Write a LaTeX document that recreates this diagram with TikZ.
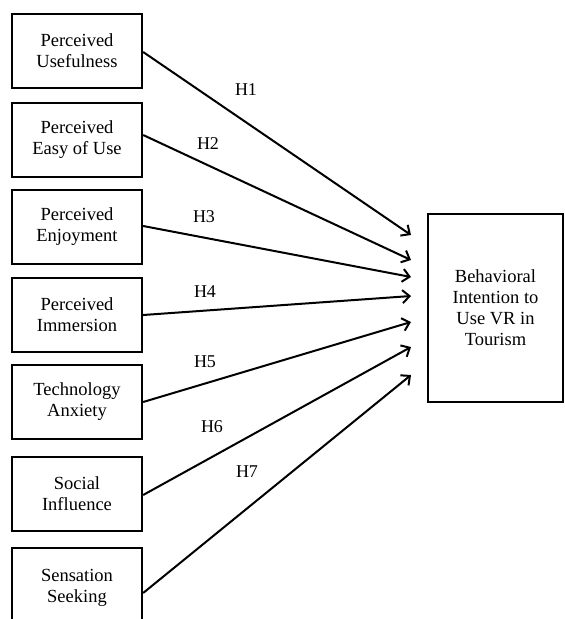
\documentclass[tikz,border=0pt]{standalone}
\usepackage{fontspec}
\setmainfont{Liberation Serif}
\usetikzlibrary{arrows.meta}
\begin{document}
\begin{tikzpicture}[x=1pt,y=-1pt,
  factor/.style={draw=black,line width=2.3pt,minimum width=130pt,minimum height=74pt,
    align=center,inner sep=0pt,font=\fontsize{18.5}{21}\selectfont},
  target/.style={draw=black,line width=2.3pt,minimum width=135pt,minimum height=188pt,
    align=center,inner sep=0pt,font=\fontsize{18.5}{21}\selectfont},
  hyp/.style={font=\fontsize{18}{20}\selectfont,inner sep=0pt},
  link/.style={line width=2pt,-{Straight Barb[length=7pt,width=13pt,line width=2pt]}}]
\useasboundingbox (0,0) rectangle (565,619);
\node[factor] (b1) at (77,51) {Perceived\\Usefulness};
\node[factor] (b2) at (77,140) {Perceived\\Easy of Use};
\node[factor] (b3) at (77,227) {Perceived\\Enjoyment};
\node[factor] (b4) at (77,315) {Perceived\\Immersion};
\node[factor] (b5) at (77,402) {Technology\\Anxiety};
\node[factor] (b6) at (77,494) {Social\\Influence};
\node[factor,minimum height=76pt] (b7) at (77,586) {};
\node[font=\fontsize{18.5}{21}\selectfont,align=center] (t7) at (77,587.5) {Sensation\\Seeking};
\node[target] (bi) at (495.5,308) {Behavioral\\Intention to\\Use VR in\\Tourism};
\coordinate (e1) at (411,235);
\coordinate (e2) at (411,260);
\coordinate (e3) at (411,277);
\coordinate (e4) at (411,296);
\coordinate (e5) at (411,322);
\coordinate (e6) at (411,347);
\coordinate (e7) at (411,375);
\draw[link] ([yshift=-1pt]b1.east) -- (e1);
\draw[link] ([yshift=5pt]b2.east) -- (e2);
\draw[link] ([yshift=1pt]b3.east) -- (e3);
\draw[link] (b4.east) -- (e4);
\draw[link] (b5.east) -- (e5);
\draw[link] ([yshift=-1pt]b6.east) -- (e6);
\draw[link] ([yshift=-7pt]b7.east) -- (e7);
\node[hyp] (h1) at (246,90) {H1};
\node[hyp] (h2) at (208,144) {H2};
\node[hyp] (h3) at (204,217) {H3};
\node[hyp] (h4) at (205,292) {H4};
\node[hyp] (h5) at (205,362) {H5};
\node[hyp] (h6) at (212,427) {H6};
\node[hyp] (h7) at (247,472) {H7};
\end{tikzpicture}
\end{document}
